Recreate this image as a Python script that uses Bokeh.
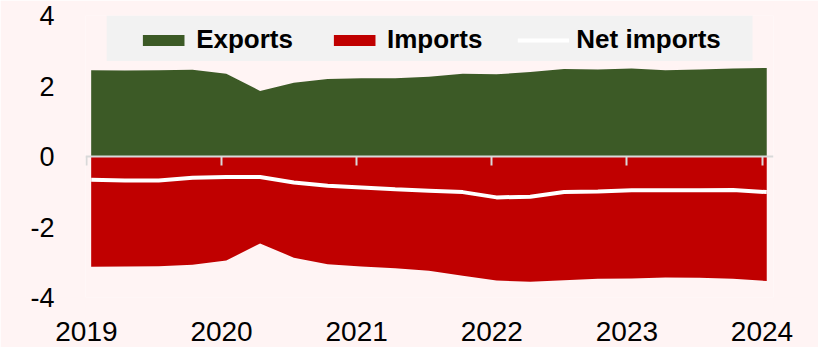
from bokeh.plotting import figure
from bokeh.models import (Range1d, FixedTicker, LinearAxis, BoxAnnotation,
                          Legend, LegendItem, ColumnDataSource)
from bokeh.embed import file_html
from bokeh.resources import INLINE

# ---- data ----
quarters = ["2019Q1", "2019Q2", "2019Q3", "2019Q4",
            "2020Q1", "2020Q2", "2020Q3", "2020Q4",
            "2021Q1", "2021Q2", "2021Q3", "2021Q4",
            "2022Q1", "2022Q2", "2022Q3", "2022Q4",
            "2023Q1", "2023Q2", "2023Q3", "2023Q4",
            "2024Q1"]
exports = [2.45, 2.44, 2.45, 2.46, 2.35, 1.86, 2.09, 2.20, 2.22, 2.22, 2.26,
           2.35, 2.33, 2.40, 2.48, 2.47, 2.50, 2.45, 2.47, 2.50, 2.51]
imports = [-3.13, -3.12, -3.11, -3.07, -2.95, -2.47, -2.87, -3.06, -3.12, -3.17,
           -3.24, -3.38, -3.52, -3.55, -3.51, -3.47, -3.46, -3.43, -3.44, -3.47,
           -3.53]
net_imports = [-0.66, -0.68, -0.68, -0.60, -0.58, -0.58, -0.74, -0.83, -0.88,
               -0.93, -0.97, -1.01, -1.16, -1.14, -1.01, -0.99, -0.96, -0.96,
               -0.96, -0.95, -1.01]
year_ticks = [2019, 2020, 2021, 2022, 2023, 2024]
y_ticks = [-4, -2, 0, 2, 4]

# quarter -> position on the time axis
xs = [int(q[:4]) + (int(q[-1]) - 1) / 4 + 0.035 for q in quarters]

src = ColumnDataSource(dict(x=xs, exports=exports, imports=imports, net=net_imports))

BG = "#FFF4F4"
GREEN = "#3C5A26"
RED = "#C00000"
FONT = "Liberation Sans"

p = figure(width=818, height=347, output_backend="svg", toolbar_location=None,
           x_range=Range1d(2018.993, 2024.085), y_range=Range1d(-4, 4),
           min_border_left=85, min_border_right=45, min_border_top=15,
           min_border_bottom=50, background_fill_color=BG,
           border_fill_color=BG, outline_line_color=None)
p.grid.visible = False

# legend background box
p.add_layout(BoxAnnotation(left=2019.15, right=2023.93, bottom=2.71, top=4,
                           fill_color="#F2F2F2", fill_alpha=1, line_color=None,
                           level="underlay"))

r_exp = p.varea(x="x", y1=0, y2="exports", source=src, fill_color=GREEN)
r_imp = p.varea(x="x", y1="imports", y2=0, source=src, fill_color=RED)
r_net = p.line(x="x", y="net", source=src, line_color="white", line_width=4)

# y axis
ya = p.yaxis[0]
ya.ticker = FixedTicker(ticks=y_ticks)
ya.major_label_overrides = {t: str(t) for t in y_ticks}
ya.axis_line_color = None
ya.major_tick_line_color = None
ya.minor_tick_line_color = None
ya.major_label_standoff = 25
ya.major_label_text_font = FONT
ya.major_label_text_font_size = "27px"
ya.major_label_text_color = "black"

# x axis (labels at bottom)
xa = p.xaxis[0]
xa.ticker = FixedTicker(ticks=year_ticks)
xa.major_label_overrides = {t: str(t) for t in year_ticks}
xa.axis_line_color = None
xa.major_tick_line_color = None
xa.minor_tick_line_color = None
xa.major_label_standoff = 18
xa.major_label_text_font = FONT
xa.major_label_text_font_size = "28px"
xa.major_label_text_color = "black"

# zero line with ticks
zero_axis = LinearAxis(fixed_location=0, ticker=FixedTicker(ticks=year_ticks),
                       axis_line_color="#D9D9D9", axis_line_width=2,
                       major_tick_line_color="#D9D9D9", major_tick_line_width=2,
                       major_tick_out=9, major_tick_in=0,
                       minor_tick_line_color=None, major_label_text_alpha=0)
p.add_layout(zero_axis, "below")

legend = Legend(items=[LegendItem(label="Exports", renderers=[r_exp]),
                       LegendItem(label="Imports", renderers=[r_imp]),
                       LegendItem(label="Net imports", renderers=[r_net])],
                location="top_center", orientation="horizontal",
                background_fill_alpha=0, border_line_color=None,
                padding=0, margin=9, spacing=35,
                glyph_width=52, glyph_height=14, label_standoff=7,
                label_text_font=FONT, label_text_font_size="26px",
                label_text_font_style="bold", label_text_color="black")
p.add_layout(legend)

open("out.html", "w").write(file_html(p, INLINE))
